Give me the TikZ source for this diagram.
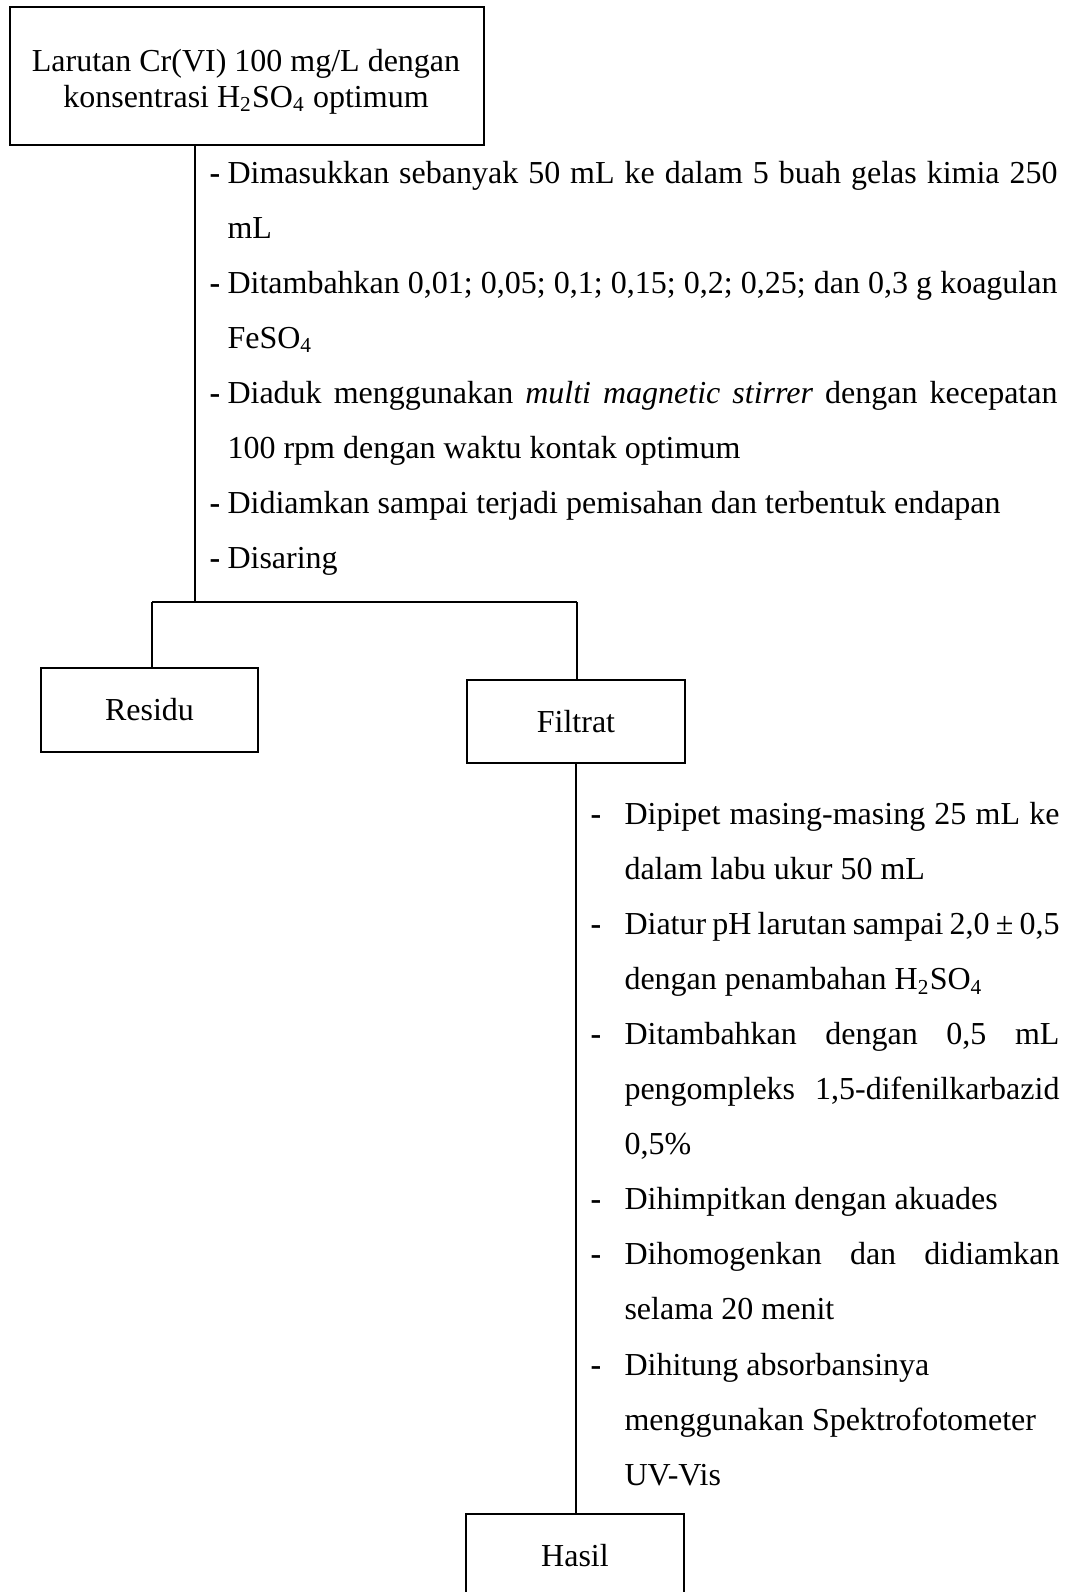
\documentclass[tikz,border=0pt]{standalone}
\usepackage{fontspec}
\setmainfont{Liberation Serif}
\newlength\WA \setlength\WA{311.25pt}
\newlength\WB \setlength\WB{163.1pt}
\newcommand\dashA{\makebox[6.75pt][l]{\textbf{-}}}
\newcommand\dashB{\makebox[12.75pt][l]{\textbf{-}}}
\begin{document}
\begin{tikzpicture}[x=0.375pt,y=-0.375pt,
  box/.style={draw, line width=0.55pt, inner sep=0pt, font=\fontsize{12}{14}\selectfont},
  ln/.style={anchor=base west, inner sep=0pt, font=\fontsize{12}{14}\selectfont},
  cln/.style={anchor=base, inner sep=0pt, font=\fontsize{12}{14}\selectfont},
  conn/.style={line width=0.45pt}]
\path[use as bounding box] (0,0) rectangle (1069,1592);
\clip (0,0) rectangle (1069,1592);
\fill[white] (0,0) rectangle (1069,1592);

% boxes
\node[box, minimum width=177.75pt, minimum height=51.75pt] (src) at (247,76) {};
\node[cln] (src1) at (246,72) {Larutan Cr(VI) 100 mg/L dengan};
\node[cln] (src2) at (246,107) {konsentrasi H\textsubscript{2}SO\textsubscript{4} optimum};
\node[box, minimum width=81.4pt, minimum height=31.5pt] (res) at (149.5,710) {Residu};
\node[box, minimum width=81.75pt, minimum height=31.1pt] (fil) at (576,721.5) {Filtrat};
\node[box, minimum width=81.75pt, minimum height=31.5pt] (has) at (575,1556) {Hasil};

% connectors
\coordinate (split) at (195,602);
\coordinate (lb) at (152,602);
\coordinate (rb) at (577,602);
\draw[conn] (src.south -| split) -- (split);
\draw[conn] (lb) -- (rb);
\draw[conn] (lb) -- (lb |- res.north);
\draw[conn] (rb) -- (rb |- fil.north);
\draw[conn] (fil.south) -- (fil.south |- has.north);

% first step list
\node[ln] (t1) at (209,183) {\dashA\hbox to\WA{Dimasukkan sebanyak 50 mL ke dalam 5 buah gelas kimia 250}};
\node[ln] (t2) at (227,238) {mL};
\node[ln] (t3) at (209,293) {\dashA\hbox to\WA{Ditambahkan 0,01; 0,05; 0,1; 0,15; 0,2; 0,25; dan 0,3 g koagulan}};
\node[ln] (t4) at (227,348) {FeSO\textsubscript{4}};
\node[ln] (t5) at (209,403) {\dashA\hbox to\WA{Diaduk menggunakan \textit{multi magnetic stirrer} dengan kecepatan}};
\node[ln] (t6) at (227,458) {100 rpm dengan waktu kontak optimum};
\node[ln] (t7) at (209,513) {\dashA Didiamkan sampai terjadi pemisahan dan terbentuk endapan};
\node[ln] (t8) at (209,568) {\dashA Disaring};

% second step list
\node[ln] (r1) at (590,824) {\dashB\hbox to\WB{Dipipet masing-masing 25 mL ke}};
\node[ln] (r2) at (624,879.1) {dalam labu ukur 50 mL};
\node[ln] (r3) at (590,934.2) {\dashB\hbox to\WB{Diatur pH larutan sampai 2,0 ± 0,5}};
\node[ln] (r4) at (624,989.3) {dengan penambahan H\textsubscript{2}SO\textsubscript{4}};
\node[ln] (r5) at (590,1044.4) {\dashB\hbox to\WB{Ditambahkan dengan 0,5 mL}};
\node[ln] (r6) at (624,1099.5) {\hbox to\WB{pengompleks 1,5-difenilkarbazid}};
\node[ln] (r7) at (624,1154.6) {0,5\%};
\node[ln] (r8) at (590,1209.7) {\dashB Dihimpitkan dengan akuades};
\node[ln] (r9) at (590,1264.8) {\dashB\hbox to\WB{Dihomogenkan dan didiamkan}};
\node[ln] (r10) at (624,1319.9) {selama 20 menit};
\node[ln] (r11) at (590,1375) {\dashB Dihitung absorbansinya};
\node[ln] (r12) at (624,1430.1) {menggunakan Spektrofotometer};
\node[ln] (r13) at (624,1485.2) {UV-Vis};
\end{tikzpicture}
\end{document}
